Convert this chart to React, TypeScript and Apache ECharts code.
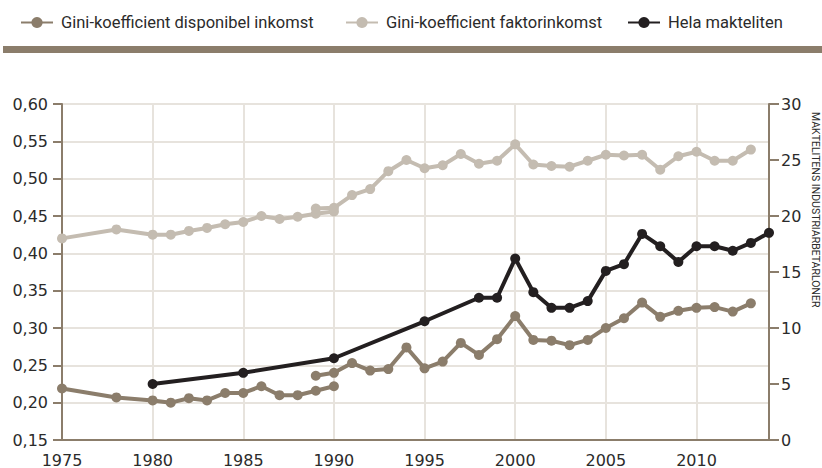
import React, { useEffect, useRef } from "react";
import * as echarts from "echarts";

// Gini-koefficient disponibel inkomst (two overlapping series segments)
const dispYears1 = [1975, 1978, 1980, 1981, 1982, 1983, 1984, 1985, 1986, 1987, 1988, 1989, 1990];
const dispValues1 = [0.219, 0.207, 0.203, 0.2, 0.206, 0.203, 0.213, 0.213, 0.222, 0.21, 0.21, 0.216, 0.222];
const dispYears2 = [1989, 1990, 1991, 1992, 1993, 1994, 1995, 1996, 1997, 1998, 1999, 2000, 2001, 2002, 2003, 2004, 2005, 2006, 2007, 2008, 2009, 2010, 2011, 2012, 2013];
const dispValues2 = [0.236, 0.24, 0.253, 0.243, 0.245, 0.274, 0.246, 0.255, 0.28, 0.264, 0.285, 0.316, 0.284, 0.283, 0.277, 0.284, 0.3, 0.313, 0.334, 0.315, 0.323, 0.327, 0.328, 0.322, 0.333];

// Gini-koefficient faktorinkomst
const faktYears1 = [1975, 1978, 1980, 1981, 1982, 1983, 1984, 1985, 1986, 1987, 1988, 1989, 1990];
const faktValues1 = [0.42, 0.432, 0.425, 0.425, 0.43, 0.434, 0.439, 0.442, 0.45, 0.446, 0.449, 0.453, 0.456];
const faktYears2 = [1989, 1990, 1991, 1992, 1993, 1994, 1995, 1996, 1997, 1998, 1999, 2000, 2001, 2002, 2003, 2004, 2005, 2006, 2007, 2008, 2009, 2010, 2011, 2012, 2013];
const faktValues2 = [0.46, 0.461, 0.478, 0.486, 0.51, 0.525, 0.514, 0.518, 0.533, 0.52, 0.524, 0.546, 0.519, 0.517, 0.516, 0.524, 0.532, 0.531, 0.532, 0.512, 0.53, 0.536, 0.524, 0.524, 0.539];

// Hela makteliten (right axis)
const eliteYears = [1980, 1985, 1990, 1995, 1998, 1999, 2000, 2001, 2002, 2003, 2004, 2005, 2006, 2007, 2008, 2009, 2010, 2011, 2012, 2013, 2014];
const eliteValues = [5.0, 6.0, 7.3, 10.6, 12.7, 12.7, 16.2, 13.2, 11.8, 11.8, 12.4, 15.1, 15.7, 18.4, 17.3, 15.9, 17.3, 17.3, 16.9, 17.6, 18.5];

const NAME_DISP = "Gini-koefficient disponibel inkomst";
const NAME_FAKT = "Gini-koefficient faktorinkomst";
const NAME_ELITE = "Hela makteliten";
const RIGHT_AXIS_NAME = "MAKTELITENS INDUSTRIARBETARLONER";

const C_DISP = "#8b7d6b";
const C_FAKT = "#c4bcb1";
const C_ELITE = "#231f20";
const C_AXIS = "#8b7d6b";
const C_GRID = "#e7e3dd";
const C_TEXT = "#2b2b2b";
const AXIS_FONT = "'DejaVu Sans', sans-serif";
const LEGEND_FONT = "Roboto, sans-serif";

const pairs = (xs: number[], ys: number[]) => xs.map((x, i) => [x, ys[i]]);

export default function App() {
  const ref = useRef<HTMLDivElement>(null);
  useEffect(() => {
    if (!ref.current) return;
    const chart = echarts.init(ref.current, null, { renderer: "svg" });
    const lineSeries = (name: string, data: number[][], color: string, width: number, yAxisIndex = 0, z = 2) => ({
      type: "line",
      name,
      data,
      yAxisIndex,
      z,
      symbol: "circle",
      symbolSize: 10,
      showSymbol: true,
      itemStyle: { color },
      lineStyle: { color, width },
      emphasis: { disabled: true },
    });
    const legendBase = {
      top: 9,
      itemWidth: 32,
      itemHeight: 14,
      textStyle: { color: C_TEXT, fontSize: 16.5, fontFamily: LEGEND_FONT, padding: [0, 0, 0, 3] },
      selectedMode: false,
    };
    chart.setOption({
      animation: false,
      textStyle: { fontFamily: AXIS_FONT },
      legend: [
        { ...legendBase, left: 15, data: [NAME_DISP] },
        { ...legendBase, left: 340, data: [NAME_FAKT] },
        { ...legendBase, left: 622, data: [NAME_ELITE] },
      ],
      graphic: [
        {
          type: "rect",
          left: 3,
          top: 46,
          shape: { width: 819, height: 7 },
          style: { fill: C_AXIS },
        },
        {
          type: "text",
          x: 815,
          y: 112,
          rotation: -Math.PI / 2,
          style: {
            text: RIGHT_AXIS_NAME,
            fill: C_TEXT,
            font: "10.5px Roboto, sans-serif",
            align: "left",
            verticalAlign: "middle",
          },
        },
      ],
      grid: {
        left: 62,
        right: 53,
        top: 104,
        bottom: 28,
        show: true,
        borderColor: C_AXIS,
        borderWidth: 2,
        containLabel: false,
      },
      xAxis: {
        type: "value",
        min: 1975,
        max: 2014,
        interval: 5,
        axisLine: { show: true, lineStyle: { color: C_AXIS, width: 2 } },
        axisTick: { show: false },
        axisLabel: {
          color: C_TEXT,
          fontSize: 16,
          fontFamily: AXIS_FONT,
          margin: 12,
          showMaxLabel: false,
          formatter: (v: number) => String(v),
        },
        splitLine: { show: true, lineStyle: { color: C_GRID, width: 2 } },
      },
      yAxis: [
        {
          type: "value",
          min: 0.15,
          max: 0.6,
          interval: 0.05,
          position: "left",
          axisLine: { show: true, lineStyle: { color: C_AXIS, width: 2 } },
          axisTick: { show: true, length: 9, lineStyle: { color: C_AXIS, width: 2 } },
          axisLabel: {
            color: C_TEXT,
            fontSize: 16,
            fontFamily: AXIS_FONT,
            margin: 14,
            formatter: (v: number) => v.toFixed(2).replace(".", ","),
          },
          splitLine: { show: true, lineStyle: { color: C_GRID, width: 2 } },
        },
        {
          type: "value",
          min: 0,
          max: 30,
          interval: 5,
          position: "right",
          axisLine: { show: true, lineStyle: { color: C_AXIS, width: 2 } },
          axisTick: { show: true, length: 10, lineStyle: { color: C_AXIS, width: 2 } },
          axisLabel: { color: C_TEXT, fontSize: 16, fontFamily: AXIS_FONT, margin: 12 },
          splitLine: { show: false },
        },
      ],
      series: [
        lineSeries(NAME_FAKT, pairs(faktYears1, faktValues1), C_FAKT, 4, 0, 2),
        lineSeries(NAME_FAKT, pairs(faktYears2, faktValues2), C_FAKT, 4, 0, 2),
        lineSeries(NAME_DISP, pairs(dispYears1, dispValues1), C_DISP, 4, 0, 3),
        lineSeries(NAME_DISP, pairs(dispYears2, dispValues2), C_DISP, 4, 0, 3),
        lineSeries(NAME_ELITE, pairs(eliteYears, eliteValues), C_ELITE, 4, 1, 4),
      ],
    });
    return () => chart.dispose();
  }, []);
  return (
    <div
      ref={ref}
      style={{ position: "absolute", left: 0, top: 0, width: 822, height: 468, background: "#fff" }}
    />
  );
}
